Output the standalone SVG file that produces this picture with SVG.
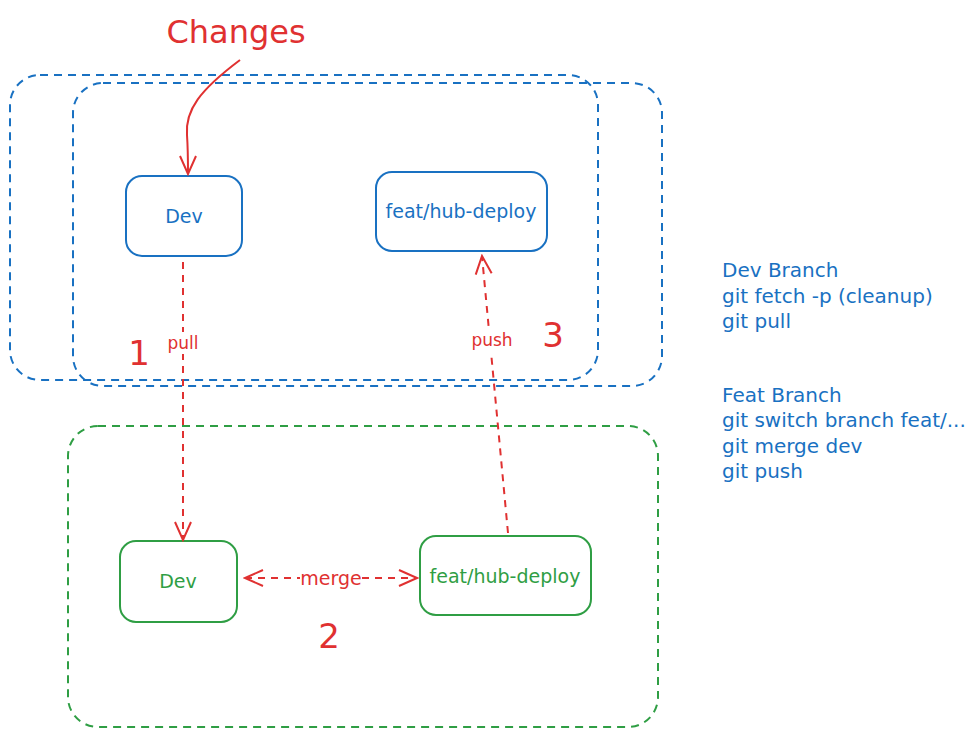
<svg xmlns="http://www.w3.org/2000/svg" width="977" height="738" viewBox="0 0 977 738">
<style>
.bg{fill:#ffffff}
.grp-blue{fill:none;stroke:#1971c2;stroke-width:2;stroke-dasharray:8 6}
.grp-green{fill:none;stroke:#2f9e44;stroke-width:2;stroke-dasharray:8 6}
.node-blue{fill:none;stroke:#1971c2;stroke-width:2}
.node-green{fill:none;stroke:#2f9e44;stroke-width:2}
.t{font-family:"DejaVu Sans","Liberation Sans",sans-serif;font-size:19px;text-anchor:middle;dominant-baseline:central}
.tb{fill:#1971c2}
.tg{fill:#2f9e44}
.tr{fill:#e03131}
.lbl{font-size:17px}
.num{font-family:"DejaVu Sans",sans-serif;font-size:34px;fill:#e03131;text-anchor:middle;dominant-baseline:central}
.edge{fill:none;stroke:#e03131;stroke-width:2;stroke-dasharray:7 6}
.solid{fill:none;stroke:#e03131;stroke-width:2}
.note{font-family:"DejaVu Sans","Liberation Sans",sans-serif;font-size:20px;fill:#1971c2}
</style>
<defs>
<marker id="ah" viewBox="0 0 22 22" refX="20" refY="11" markerWidth="22" markerHeight="22" markerUnits="userSpaceOnUse" orient="auto-start-reverse">
<path d="M2,3 L20,11 L2,19" fill="none" stroke="#e03131" stroke-width="2"/>
</marker>
</defs>
<rect class="bg" x="0" y="0" width="977" height="738"/>
<g id="group-dev-branch">
<rect class="grp-blue" x="10" y="75" width="588" height="305" rx="30"/>
<rect class="grp-blue" x="73" y="83" width="589" height="303" rx="30"/>
</g>
<g id="group-feat-branch">
<rect class="grp-green" x="68" y="426" width="590" height="301" rx="30"/>
</g>
<g id="title-changes">
<text x="236" y="32" font-family="DejaVu Sans,sans-serif" font-size="32" fill="#e03131" text-anchor="middle" dominant-baseline="central">Changes</text>
</g>
<g id="node-dev-top">
<rect class="node-blue" x="126" y="176" width="116" height="80" rx="16"/>
<text class="t tb" x="184" y="216">Dev</text>
</g>
<g id="node-feat-top">
<rect class="node-blue" x="376" y="172" width="171" height="79" rx="16"/>
<text class="t tb" x="461" y="211">feat/hub-deploy</text>
</g>
<g id="node-dev-bottom">
<rect class="node-green" x="120" y="541" width="117" height="81" rx="16"/>
<text class="t tg" x="178" y="581">Dev</text>
</g>
<g id="node-feat-bottom">
<rect class="node-green" x="420" y="536" width="171" height="79" rx="16"/>
<text class="t tg" x="505" y="576">feat/hub-deploy</text>
</g>
<g id="connectors">
<path class="solid" d="M240,60 C200,90 185,110 187,135 C188,150 188,162 188,174" marker-end="url(#ah)"/>
<line class="edge" x1="183" y1="262" x2="183" y2="540" marker-end="url(#ah)"/>
<rect x="165" y="332" width="38" height="22" fill="#ffffff"/>
<text class="t tr lbl" x="183" y="343">pull</text>
<line class="edge" x1="508" y1="533" x2="482" y2="256" marker-end="url(#ah)"/>
<rect x="468" y="328" width="48" height="24" fill="#ffffff"/>
<text class="t tr lbl" x="492" y="340">push</text>
<line class="edge" x1="245" y1="578" x2="417" y2="578" marker-start="url(#ah)" marker-end="url(#ah)"/>
<rect x="300" y="570" width="62" height="16" fill="#ffffff"/>
<text class="t tr" x="331" y="578" font-size="13">merge</text>
</g>
<g id="step-labels">
<text class="num" x="139" y="353">1</text>
<text class="num" x="329" y="636">2</text>
<text class="num" x="553" y="335">3</text>
</g>
<g id="notes">
<text class="note" x="722" y="277">Dev Branch</text>
<text class="note" x="722" y="303">git fetch -p (cleanup)</text>
<text class="note" x="722" y="328">git pull</text>
<text class="note" x="722" y="402">Feat Branch</text>
<text class="note" x="722" y="427">git switch branch feat/...</text>
<text class="note" x="722" y="453">git merge dev</text>
<text class="note" x="722" y="478">git push</text>
</g>
</svg>
